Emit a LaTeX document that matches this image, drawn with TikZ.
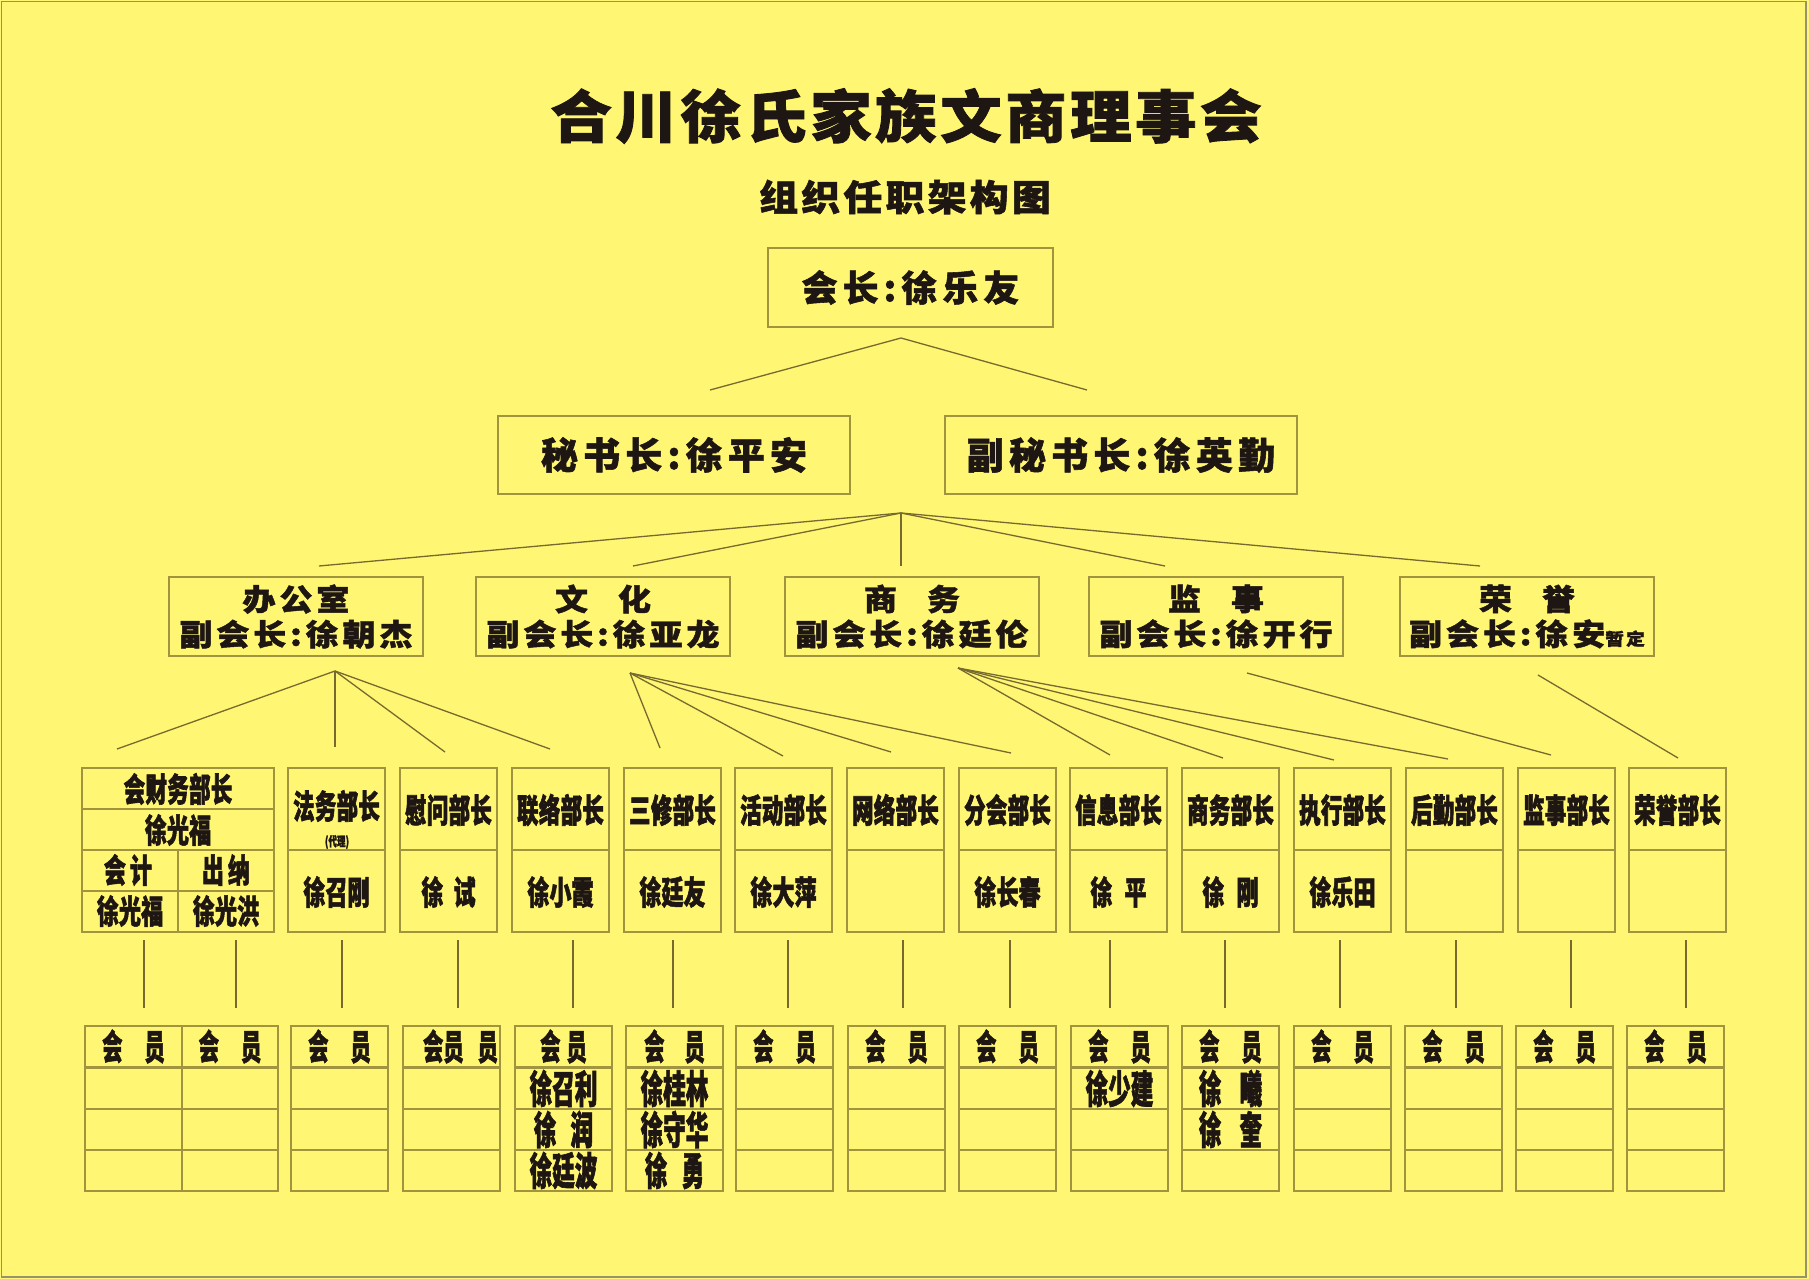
\documentclass[tikz,border=0pt]{standalone}
\usepackage{fontspec}
\newfontfamily\fTitle{Noto Sans CJK SC}[FakeStretch=1.08,FakeBold=1.5,LetterSpace=6]
\newfontfamily\fSub{Noto Sans CJK SC}[FakeStretch=1.08,FakeBold=1.5,LetterSpace=9]
\newfontfamily\fPres{Noto Sans CJK SC}[FakeBold=1.5,LetterSpace=14]
\newfontfamily\fDept{Noto Sans CJK SC}[FakeStretch=1.1,FakeBold=1.5,LetterSpace=13]
\newfontfamily\fChief{Noto Sans CJK SC}[FakeStretch=0.65,FakeBold=1.8,LetterSpace=1]
\newfontfamily\fName{Noto Sans CJK SC}[FakeStretch=0.67,FakeBold=1.5]
\newfontfamily\fMem{Noto Sans CJK SC}[FakeStretch=0.58,FakeBold=1.5]
\definecolor{bg}{RGB}{255,246,115}
\definecolor{boxc}{RGB}{160,148,62}
\definecolor{linec}{RGB}{118,106,48}
\definecolor{framec}{RGB}{150,146,110}
\definecolor{txt}{RGB}{30,22,18}
\newcommand\chiefbox[5]{%
  \node[bx,minimum width=97,minimum height=164] (#1) at (#2,768) {};
  \draw[bxline] (#1.west) -- (#1.east);
  \node[chieft] (#1t) at ({#2+48.5},#5) {#3};
  \node[chiefn] (#1n) at ({#2+48.5},892) {#4};
}
\newcommand\membox[6]{%
  \node[bx,memh,minimum width=97,minimum height=41] (#1h) at (#2,1026) {#3};
  \node[bx,memn,minimum width=97,minimum height=41] (#1a) at (#2,1068) {#4};
  \node[bx,memn,minimum width=97,minimum height=41] (#1b) at (#2,1109) {#5};
  \node[bx,memn,minimum width=97,minimum height=41] (#1c) at (#2,1150) {#6};
}
\begin{document}
\begin{tikzpicture}[x=1pt,y=-1pt,
  bx/.style={draw=boxc,line width=1.1pt,inner sep=0pt,outer sep=0pt,anchor=north west,text=txt},
  bxline/.style={draw=boxc,line width=1.1pt},
  ln/.style={draw=linec,line width=1.3pt},
  chieft/.style={font=\fChief\bfseries\fontsize{33}{33}\selectfont,text=txt,inner sep=0pt},
  chiefn/.style={font=\fName\bfseries\fontsize{33}{33}\selectfont,text=txt,inner sep=0pt},
  memh/.style={font=\fMem\bfseries\fontsize{35}{35}\selectfont},
  memn/.style={font=\fMem\bfseries\fontsize{39}{39}\selectfont},
  dept/.style={bx,minimum width=254,minimum height=79,align=center,font=\fDept\bfseries\fontsize{30}{35}\selectfont}
]
\useasboundingbox (0,0) rectangle (1809,1279);
\fill[bg] (0,0) rectangle (1809,1279);
\draw[draw=framec,line width=1.5pt] (1.5,1.5) rectangle (1806,1277);

% titles
\node[font=\fTitle\bfseries\fontsize{57}{60}\selectfont,text=txt,inner sep=0pt] (title) at (906,116) {合川徐氏家族文商理事会};
\node[font=\fSub\bfseries\fontsize{36}{38}\selectfont,text=txt,inner sep=0pt] (subtitle) at (905,197) {组织任职架构图};

% top levels
\node[bx,minimum width=285,minimum height=79,font=\fPres\bfseries\fontsize{36}{36}\selectfont] (pres) at (768,248) {会长:徐乐友};
\node[bx,minimum width=352,minimum height=78,font=\fPres\bfseries\fontsize{37}{37}\selectfont] (sec) at (498,416) {秘书长:徐平安};
\node[bx,minimum width=352,minimum height=78,font=\fPres\bfseries\fontsize{37}{37}\selectfont] (dsec) at (945,416) {副秘书长:徐英勤};

\coordinate (ap1) at (901,338);
\coordinate (e1a) at (710,390);
\coordinate (e1b) at (1087,390);
\draw[ln] (e1a) -- (ap1) -- (e1b);

% departments
\node[dept] (dA) at (169,577) {办公室\\副会长:徐朝杰};
\node[dept] (dB) at (476,577) {文\quad 化\\副会长:徐亚龙};
\node[dept] (dC) at (785,577) {商\quad 务\\副会长:徐廷伦};
\node[dept] (dD) at (1089,577) {监\quad 事\\副会长:徐开行};
\node[dept] (dE) at (1400,577) {荣\quad 誉\\副会长:徐安{\fontsize{17}{17}\selectfont 暂定}};

\coordinate (ap2) at (901,513);
\foreach \x/\n in {319/a,633/b,901/c,1165/d,1480/e}{
  \coordinate (f2\n) at (\x,566);
  \draw[ln] (ap2) -- (f2\n);
}

% chief boxes
\node[bx,minimum width=192,minimum height=164] (c0) at (82,768) {};
\coordinate (c0r1l) at (82,809);  \coordinate (c0r1r) at (274,809);
\coordinate (c0r3l) at (82,891);  \coordinate (c0r3r) at (274,891);
\draw[bxline] (c0r1l) -- (c0r1r);
\draw[bxline] (c0.west) -- (c0.east);
\draw[bxline] (c0r3l) -- (c0r3r);
\draw[bxline] (c0.center) -- (c0.south);
\node[chieft] (c0t) at (178,789) {会财务部长};
\node[chiefn] (c0n) at (178,830) {徐光福};
\node[chiefn] (c0k) at (128,870) {会\hspace{4pt}计};
\node[chiefn] (c0c) at (226,870) {出\hspace{4pt}纳};
\node[chiefn] (c0kn) at (130,911) {徐光福};
\node[chiefn] (c0cn) at (226,911) {徐光洪};

\chiefbox{c1}{288}{法务部长}{徐召刚}{806}
\node[font=\fChief\bfseries\fontsize{13}{13}\selectfont,text=txt,inner sep=0pt] (c1d) at (337,842) {(代理)};
\chiefbox{c2}{400}{慰问部长}{徐\hspace{10pt}试}{810}
\chiefbox{c3}{512}{联络部长}{徐小霞}{810}
\chiefbox{c4}{624}{三修部长}{徐廷友}{810}
\chiefbox{c5}{735}{活动部长}{徐大萍}{810}
\chiefbox{c6}{847}{网络部长}{}{810}
\chiefbox{c7}{959}{分会部长}{徐长春}{810}
\chiefbox{c8}{1070}{信息部长}{徐\hspace{12pt}平}{810}
\chiefbox{c9}{1182}{商务部长}{徐\hspace{12pt}刚}{810}
\chiefbox{c10}{1294}{执行部长}{徐乐田}{810}
\chiefbox{c11}{1406}{后勤部长}{}{810}
\chiefbox{c12}{1518}{监事部长}{}{810}
\chiefbox{c13}{1629}{荣誉部长}{}{810}

% fans dept -> chiefs
\coordinate (apA) at (335,671);
\foreach \x/\y [count=\i] in {117/749,335/747,445/752,550/749}{
  \coordinate (gA\i) at (\x,\y);
  \draw[ln] (apA) -- (gA\i);
}
\coordinate (apB) at (630,673);
\foreach \x/\y [count=\i] in {660/748,783/756,891/752,1011/753}{
  \coordinate (gB\i) at (\x,\y);
  \draw[ln] (apB) -- (gB\i);
}
\coordinate (apC) at (958,668);
\foreach \x/\y [count=\i] in {1110/755,1223/758,1334/760,1448/759}{
  \coordinate (gC\i) at (\x,\y);
  \draw[ln] (apC) -- (gC\i);
}
\coordinate (apD) at (1247,673);
\coordinate (gD1) at (1551,755);
\draw[ln] (apD) -- (gD1);
\coordinate (apE) at (1538,675);
\coordinate (gE1) at (1678,758);
\draw[ln] (apE) -- (gE1);

% verticals
\foreach \x [count=\i] in {144,236,342,458,573,673,788,903,1010,1110,1225,1340,1456,1571,1686}{
  \coordinate (vt\i) at (\x,940);
  \coordinate (vb\i) at (\x,1008);
  \draw[ln] (vt\i) -- (vb\i);
}

% member blocks
\node[bx,memh,minimum width=97,minimum height=41] (m0ah) at (85,1026) {会\hspace{22pt}员};
\node[bx,memh,minimum width=96,minimum height=41] (m0bh) at (182,1026) {会\hspace{22pt}员};
\foreach \yy/\r in {1068/a,1109/b,1150/c}{
  \node[bx,minimum width=97,minimum height=41] (m0a\r) at (85,\yy) {};
  \node[bx,minimum width=96,minimum height=41] (m0b\r) at (182,\yy) {};
}
\membox{m1}{291}{会\hspace{22pt}员}{}{}{}
\membox{m2}{403}{\hspace{18pt}会员\hspace{14pt}员}{}{}{}
\membox{m3}{515}{会\hspace{6pt}员}{徐召利}{徐\hspace{14pt}润}{徐廷波}
\membox{m4}{626}{会\hspace{20pt}员}{徐桂林}{徐守华}{徐\hspace{14pt}勇}
\membox{m5}{736}{会\hspace{22pt}员}{}{}{}
\membox{m6}{848}{会\hspace{22pt}员}{}{}{}
\membox{m7}{959}{会\hspace{22pt}员}{}{}{}
\membox{m8}{1071}{会\hspace{22pt}员}{徐少建}{}{}
\membox{m9}{1182}{会\hspace{22pt}员}{徐\hspace{18pt}曦}{徐\hspace{18pt}奎}{}
\membox{m10}{1294}{会\hspace{22pt}员}{}{}{}
\membox{m11}{1405}{会\hspace{22pt}员}{}{}{}
\membox{m12}{1516}{会\hspace{22pt}员}{}{}{}
\membox{m13}{1627}{会\hspace{22pt}员}{}{}{}
\end{tikzpicture}
\end{document}
